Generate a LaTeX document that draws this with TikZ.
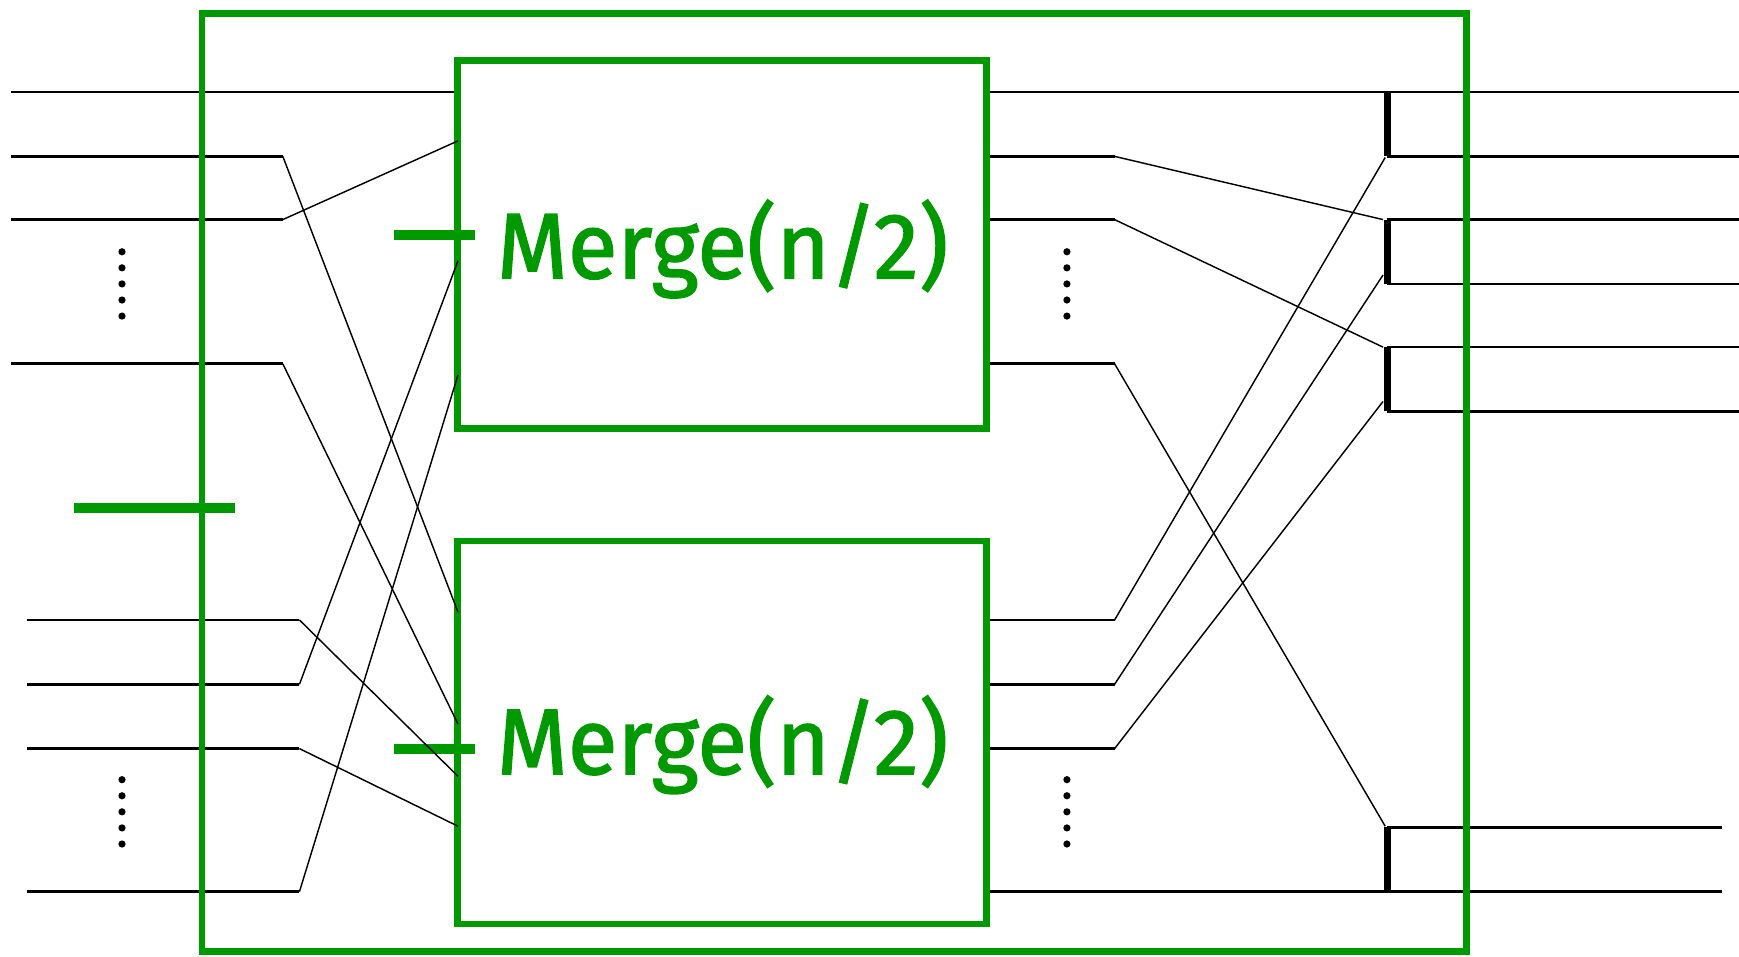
\documentclass[tikz,border=0pt]{standalone}
\usepackage{fontspec}
\usepackage{graphicx}
\newfontfamily\mergefont[FakeBold=1.5]{Fira Sans}
\definecolor{mgreen}{RGB}{0,153,0}
\begin{document}
\begin{tikzpicture}[x=1pt,y=-1pt,
  wire/.style={line width=2.4pt},
  diag/.style={line width=1.3pt},
  comp/.style={line width=7pt},
  gframe/.style={draw=mgreen,line width=6pt},
  gtick/.style={draw=mgreen,line width=9pt},
  dotnode/.style={circle,fill=black,inner sep=0pt,minimum size=6.5pt},
  lbl/.style={text=mgreen,anchor=base,inner sep=0pt}]
\useasboundingbox (0,0) rectangle (1568,862);

% merge boxes
\node[inner sep=0pt,minimum width=476pt,minimum height=331pt] (m1) at (651,220.5) {};
\node[inner sep=0pt,minimum width=476pt,minimum height=345pt] (m2) at (651,660.5) {};

% ---------- left side coordinates ----------
\coordinate (i1) at (10,83);
\coordinate (e1) at (413,83);
\foreach \n/\xs/\y/\xk/\ye in {2/10/141/255/552, 3/10/198/255/127, 4/10/328/255/653,
  5/24/559/270/700, 6/24/617/270/235, 7/24/675/270/745, 8/24/804/270/338}{
  \coordinate (i\n) at (\xs,\y);
  \coordinate (k\n) at (\xk,\y);
  \coordinate (e\n) at (413,\ye);
}
% ---------- right side coordinates ----------
\coordinate (o1) at (889,83);
\coordinate (p1) at (1568,83);
\coordinate (o8) at (889,804);
\coordinate (p8) at (1553,804);
\foreach \n/\y/\xe/\ye in {2/141/1247/198, 3/198/1247/313, 4/328/1249/745,
  5/559/1249/142, 6/617/1247/248, 7/675/1247/362}{
  \coordinate (o\n) at (889,\y);
  \coordinate (q\n) at (1005,\y);
  \coordinate (f\n) at (\xe,\ye);
}
% comparator ends and outputs
\foreach \n/\ya/\yb/\xr in {a/83/141/1568, b/198/256/1568, c/313/371/1568, d/746/804/1553}{
  \coordinate (ct\n) at (1251,\ya);
  \coordinate (cb\n) at (1251,\yb);
  \coordinate (rt\n) at (\xr,\ya);
  \coordinate (rb\n) at (\xr,\yb);
}

% ---------- horizontal wires ----------
\draw[wire] (i1) -- (e1);
\foreach \n in {2,...,8}{\draw[wire] (i\n) -- (k\n);}
\draw[wire] (o1) -- (p1);
\draw[wire] (o8) -- (p8);
\foreach \n in {2,...,7}{\draw[wire] (o\n) -- (q\n);}
\draw[wire] (cba) -- (rba);
\draw[wire] (ctb) -- (rtb);
\draw[wire] (cbb) -- (rbb);
\draw[wire] (ctc) -- (rtc);
\draw[wire] (cbc) -- (rbc);
\draw[wire] (ctd) -- (rtd);

% ---------- green frames ----------
\coordinate (fr1) at (182,12);
\coordinate (fr2) at (1322,858);
\draw[gframe] (fr1) rectangle (fr2);
\draw[gframe] (m1.south west) rectangle (m1.north east);
\draw[gframe] (m2.south west) rectangle (m2.north east);
\coordinate (ta1) at (67,458);  \coordinate (ta2) at (212,458);
\coordinate (tb1) at (355,212); \coordinate (tb2) at (428,212);
\coordinate (tc1) at (355,675); \coordinate (tc2) at (428,675);
\draw[gtick] (ta1) -- (ta2);
\draw[gtick] (tb1) -- (tb2);
\draw[gtick] (tc1) -- (tc2);

% ---------- diagonal wires ----------
\foreach \n in {2,...,8}{\draw[diag] (k\n) -- (e\n);}
\foreach \n in {2,...,7}{\draw[diag] (q\n) -- (f\n);}

% ---------- comparators ----------
\foreach \n in {a,b,c,d}{\draw[comp] (ct\n) -- (cb\n);}

% ---------- dots ----------
\foreach \x/\yo/\s in {110/227/L1, 110/703/L2, 962/227/R1, 962/703/R2}{
  \foreach \k in {0,...,4}{
    \node[dotnode] (d\s\k) at (\x,\yo+14.5*\k) {};
  }
}

% ---------- labels ----------
\node[lbl] (t1) at (651.5,251) {\resizebox{407pt}{\height}{\mergefont\fontsize{84pt}{90pt}\selectfont Merge(n/2)}};
\node[lbl] (t2) at (651.5,698) {\resizebox{407pt}{\height}{\mergefont\fontsize{84pt}{90pt}\selectfont Merge(n/2)}};
\end{tikzpicture}
\end{document}
